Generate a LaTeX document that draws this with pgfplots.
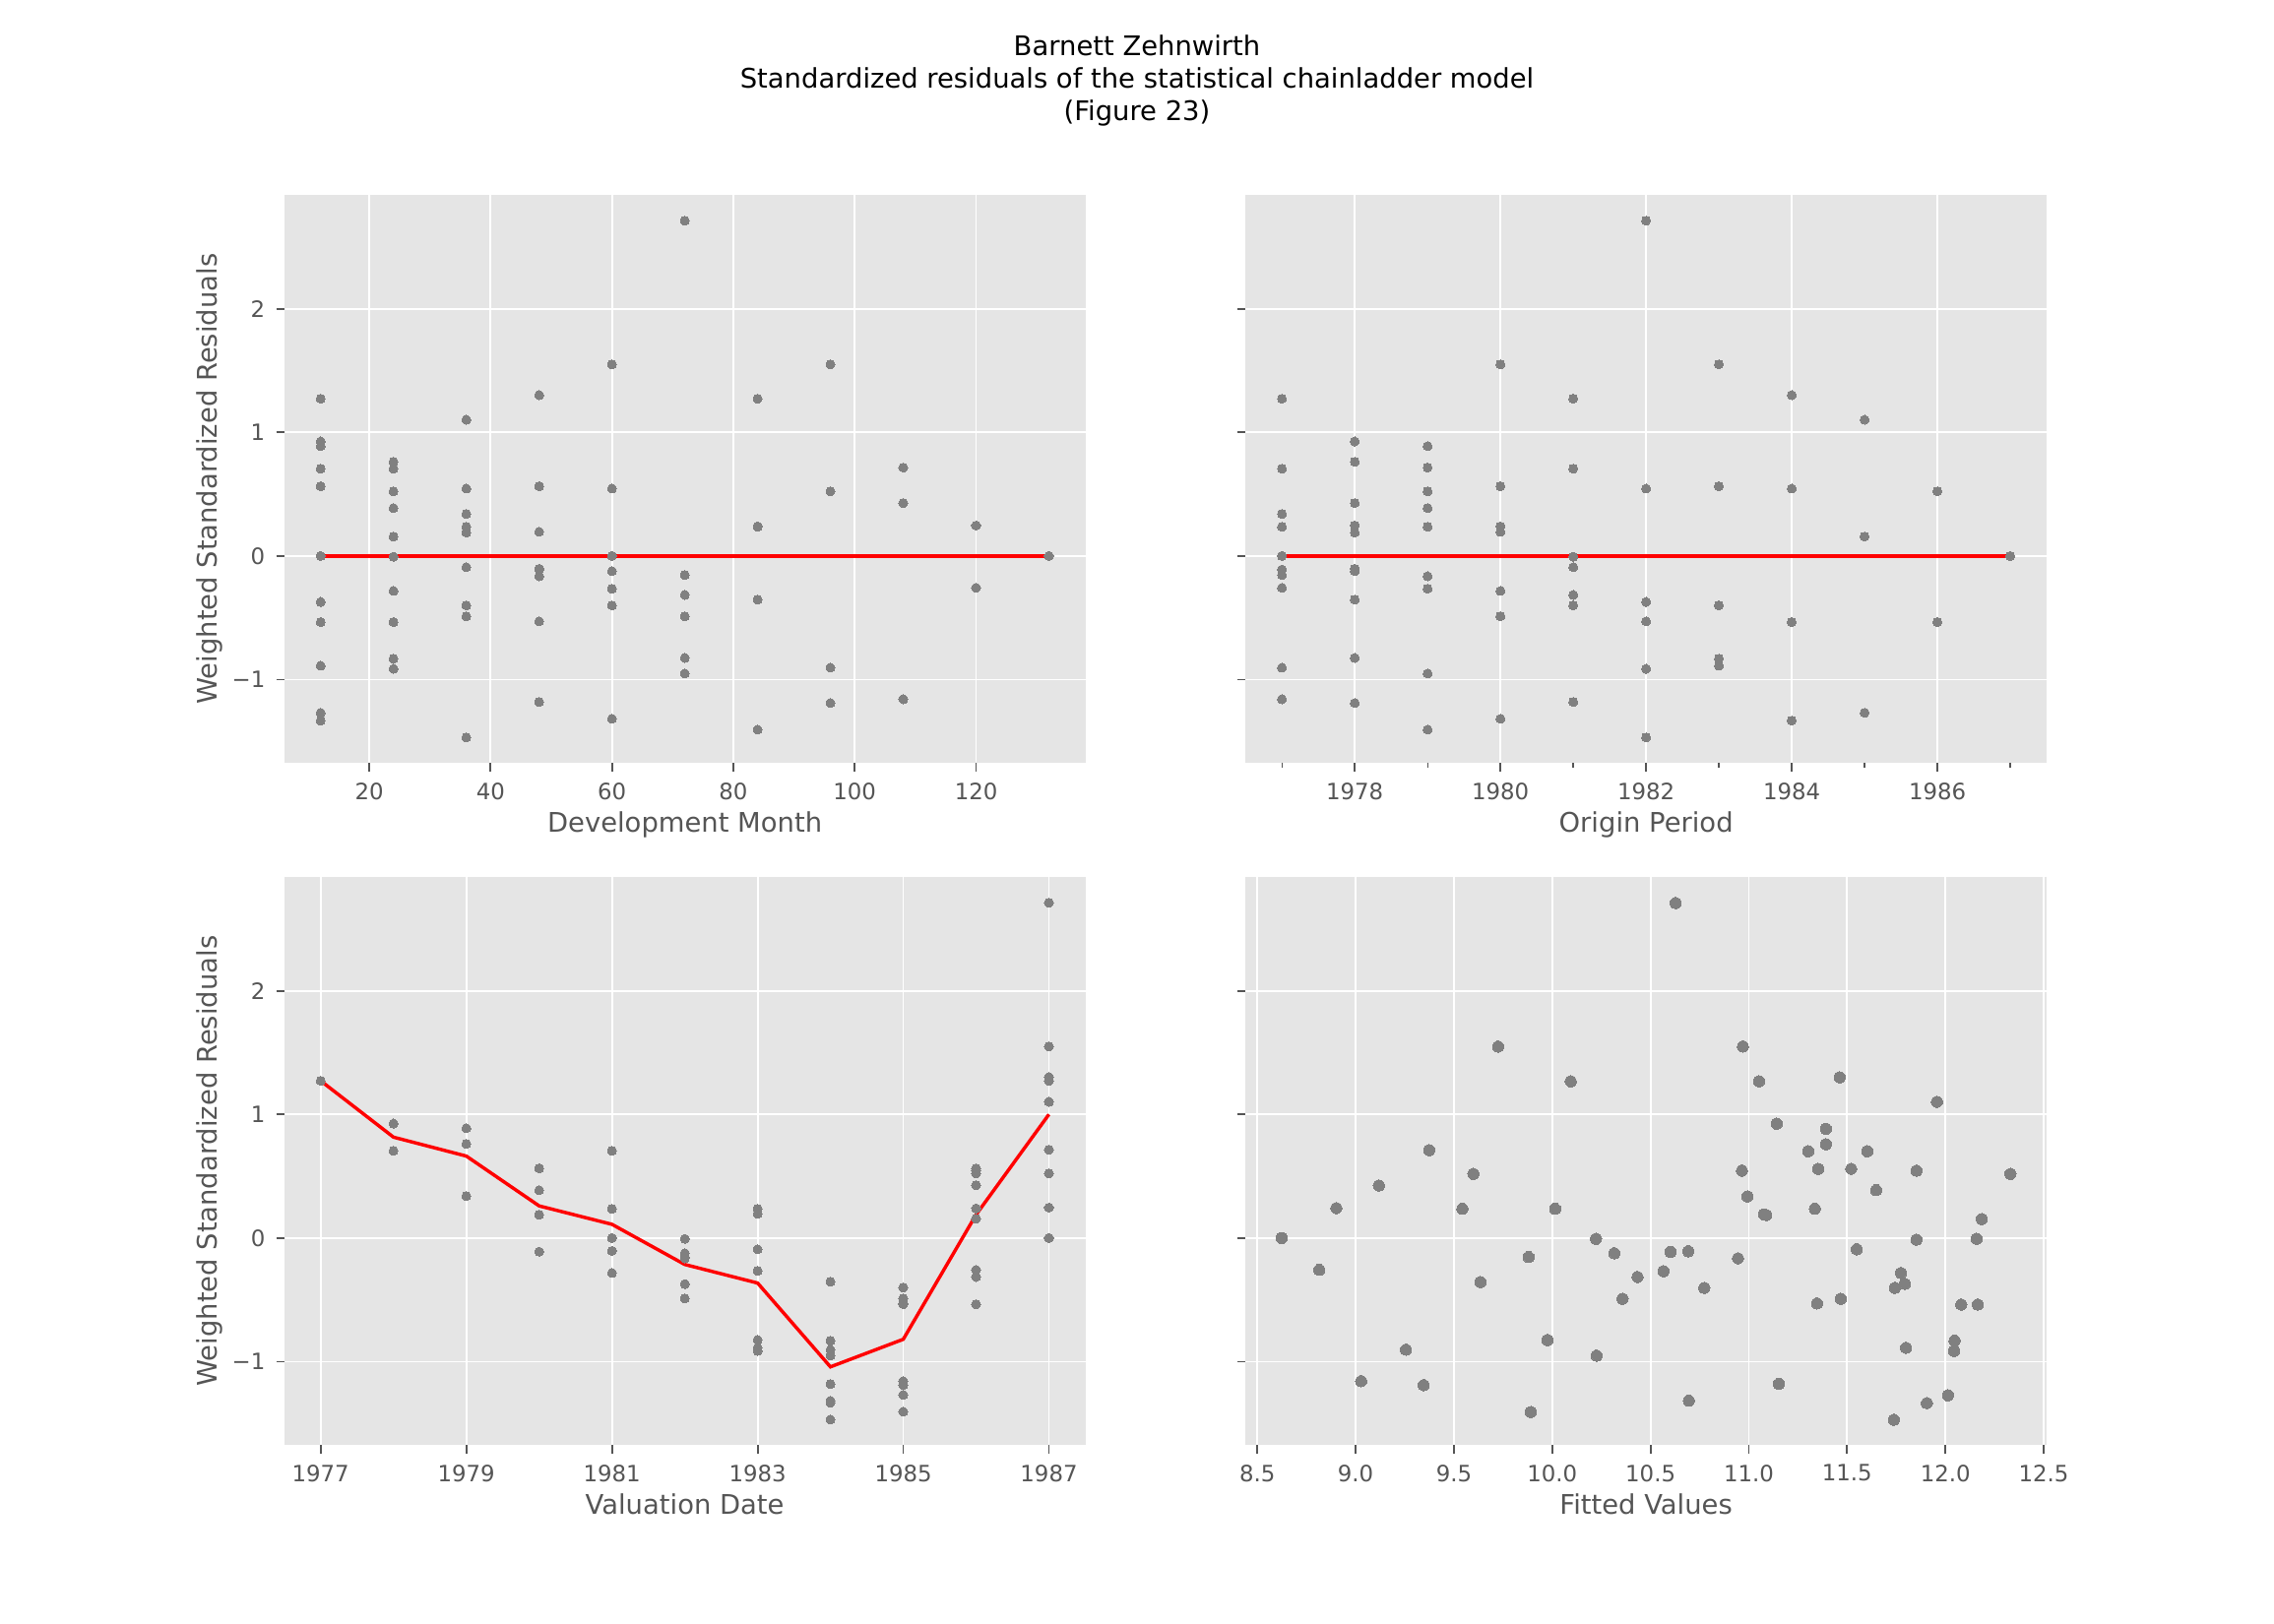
\documentclass[border=0pt]{standalone}
\usepackage{fontspec}
\setmainfont{DejaVu Sans}
\usepackage{pgfplots}
\usepackage{pgfplotstable}
\pgfplotsset{compat=1.18}
\definecolor{bg}{HTML}{E5E5E5}
\definecolor{lab}{HTML}{555555}
\definecolor{dot}{HTML}{808080}

% origin, development month, valuation year, weighted standardized residual
\pgfplotstableread{
orig dev val res
1977 12 1977 1.272
1977 24 1978 0.706
1977 36 1979 0.340
1977 48 1980 -0.110
1977 60 1981 0.000
1977 72 1982 -0.154
1977 84 1983 0.236
1977 96 1984 -0.904
1977 108 1985 -1.159
1977 120 1986 -0.258
1977 132 1987 0.000
1978 12 1978 0.926
1978 24 1979 0.762
1978 36 1980 0.189
1978 48 1981 -0.104
1978 60 1982 -0.123
1978 72 1983 -0.825
1978 84 1984 -0.353
1978 96 1985 -1.190
1978 108 1986 0.428
1978 120 1987 0.246
1979 12 1979 0.888
1979 24 1980 0.387
1979 36 1981 0.236
1979 48 1982 -0.164
1979 60 1983 -0.265
1979 72 1984 -0.951
1979 84 1985 -1.405
1979 96 1986 0.523
1979 108 1987 0.715
1980 12 1980 0.564
1980 24 1981 -0.283
1980 36 1982 -0.488
1980 48 1983 0.195
1980 60 1984 -1.317
1980 72 1985 -0.488
1980 84 1986 0.239
1980 96 1987 1.550
1981 12 1981 0.706
1981 24 1982 -0.006
1981 36 1983 -0.091
1981 48 1984 -1.181
1981 60 1985 -0.400
1981 72 1986 -0.315
1981 84 1987 1.272
1982 12 1982 -0.372
1982 24 1983 -0.913
1982 36 1984 -1.468
1982 48 1985 -0.529
1982 60 1986 0.545
1982 72 1987 2.712
1983 12 1983 -0.888
1983 24 1984 -0.831
1983 36 1985 -0.400
1983 48 1986 0.564
1983 60 1987 1.550
1984 12 1984 -1.332
1984 24 1985 -0.535
1984 36 1986 0.545
1984 48 1987 1.301
1985 12 1985 -1.269
1985 24 1986 0.157
1985 36 1987 1.102
1986 12 1986 -0.535
1986 24 1987 0.523
1987 12 1987 0.000
}\resid

% mean residual per valuation year
\pgfplotstableread{
val mean
1977 1.272
1978 0.816
1979 0.663
1980 0.260
1981 0.111
1982 -0.214
1983 -0.364
1984 -1.042
1985 -0.819
1986 0.189
1987 1.000
}\valmean

% fitted values vs residuals
\pgfplotstableread{
fit res
8.624 0.000
8.815 -0.258
8.902 0.242
9.028 -1.158
9.118 0.425
9.256 -0.903
9.346 -1.190
9.374 0.711
9.543 0.236
9.599 0.519
9.635 -0.356
9.725 1.549
9.880 -0.154
9.891 -1.407
9.976 -0.825
10.015 0.236
10.094 1.268
10.223 -0.006
10.226 -0.951
10.316 -0.123
10.358 -0.491
10.434 -0.315
10.566 -0.268
10.602 -0.113
10.628 2.710
10.692 -0.107
10.695 -1.316
10.774 -0.403
10.945 -0.164
10.965 0.545
10.970 1.549
10.993 0.337
11.052 1.268
11.077 0.192
11.089 0.186
11.142 0.925
11.153 -1.180
11.302 0.702
11.336 0.236
11.347 -0.529
11.353 0.560
11.392 0.759
11.392 0.884
11.462 1.300
11.468 -0.491
11.521 0.560
11.549 -0.091
11.603 0.702
11.648 0.387
11.738 -1.470
11.743 -0.403
11.774 -0.283
11.794 -0.371
11.800 -0.888
11.853 0.545
11.853 -0.013
11.906 -1.335
11.957 1.102
12.013 -1.272
12.044 -0.913
12.047 -0.831
12.081 -0.538
12.159 -0.006
12.165 -0.538
12.185 0.154
12.331 0.519
}\fitted

\pgfplotsset{
  resstyle/.style={
    width=355.09bp, height=252bp, scale only axis,
    axis background/.style={fill=bg},
    axis line style={draw=none},
    grid=major,
    major grid style={white, line width=0.8bp},
    tick align=outside, xtick pos=left, ytick pos=left,
    major tick length=3.5bp, minor tick length=2bp,
    tick style={lab, line width=0.8bp},
    minor tick style={lab, line width=0.6bp},
    ymin=-1.677, ymax=2.921, ytick={-1,0,1,2},
    /pgf/number format/assume math mode=true,
    tick label style={font=\fontsize{10}{12}\selectfont, text=lab},
    xticklabel style={inner sep=0pt, anchor=north, yshift=-4.9bp},
    yticklabel style={inner sep=0pt, anchor=east, xshift=-4.8bp},
    label style={font=\fontsize{12}{14.4}\selectfont, text=lab, inner sep=0pt},
    xlabel style={at={(axis description cs:0.5,-0.1218)}, anchor=base},
    ylabel style={at={(axis description cs:-0.0834,0.5)}, anchor=base, rotate=0},
  },
  dots/.style={only marks, color=dot, mark=*, mark size=2.0bp,
    mark options={draw=dot, fill=dot, line width=0bp}},
  redline/.style={red, line width=1.5bp, mark=none},
}

\begin{document}
\begin{tikzpicture}
\useasboundingbox (0,0) rectangle (1008bp,720bp);

\node[anchor=north, align=center, inner sep=0pt, font=\fontsize{12}{14.6}\selectfont]
  at (504bp,704.8bp) {Barnett Zehnwirth\\Standardized residuals of the statistical chainladder model\\(Figure 23)};

% top left
\begin{axis}[resstyle, at={(126bp,381.6bp)}, anchor=south west,
  xmin=6, xmax=138, xtick={20,40,60,80,100,120},
  yticklabels={−1,0,1,2},
  xlabel={Development Month}, ylabel={Weighted Standardized Residuals}]
\addplot[dots] table[x=dev, y=res] {\resid};
\addplot[redline] coordinates {(12,0)(24,0)(36,0)(48,0)(60,0)(72,0)(84,0)(96,0)(108,0)(120,0)(132,0)};
\end{axis}

% top right
\begin{axis}[resstyle, at={(552.11bp,381.6bp)}, anchor=south west,
  xmin=1976.5, xmax=1987.5, xtick={1978,1980,1982,1984,1986},
  xticklabels={1978,1980,1982,1984,1986},
  minor xtick={1977,1979,1981,1983,1985,1987},
  yticklabels={},
  xlabel={Origin Period}]
\addplot[dots] table[x=orig, y=res] {\resid};
\addplot[redline] coordinates {(1977,0)(1978,0)(1979,0)(1980,0)(1981,0)(1982,0)(1983,0)(1984,0)(1985,0)(1986,0)(1987,0)};
\end{axis}

% bottom left
\begin{axis}[resstyle, at={(126bp,79.2bp)}, anchor=south west,
  xmin=1976.5, xmax=1987.5, xtick={1977,1979,1981,1983,1985,1987},
  xticklabels={1977,1979,1981,1983,1985,1987},
  yticklabels={−1,0,1,2},
  xlabel={Valuation Date}, ylabel={Weighted Standardized Residuals}]
\addplot[dots] table[x=val, y=res] {\resid};
\addplot[redline] table[x=val, y=mean] {\valmean};
\end{axis}

% bottom right
\begin{axis}[resstyle, at={(552.11bp,79.2bp)}, anchor=south west,
  xmin=8.44, xmax=12.515, xtick={8.5,9,9.5,10,10.5,11,11.5,12,12.5},
  xticklabels={8.5,9.0,9.5,10.0,10.5,11.0,11.5,12.0,12.5},
  yticklabels={},
  xlabel={Fitted Values}]
\addplot[dots, mark size=2.5bp] table[x=fit, y=res] {\fitted};
\end{axis}
\end{tikzpicture}
\end{document}
